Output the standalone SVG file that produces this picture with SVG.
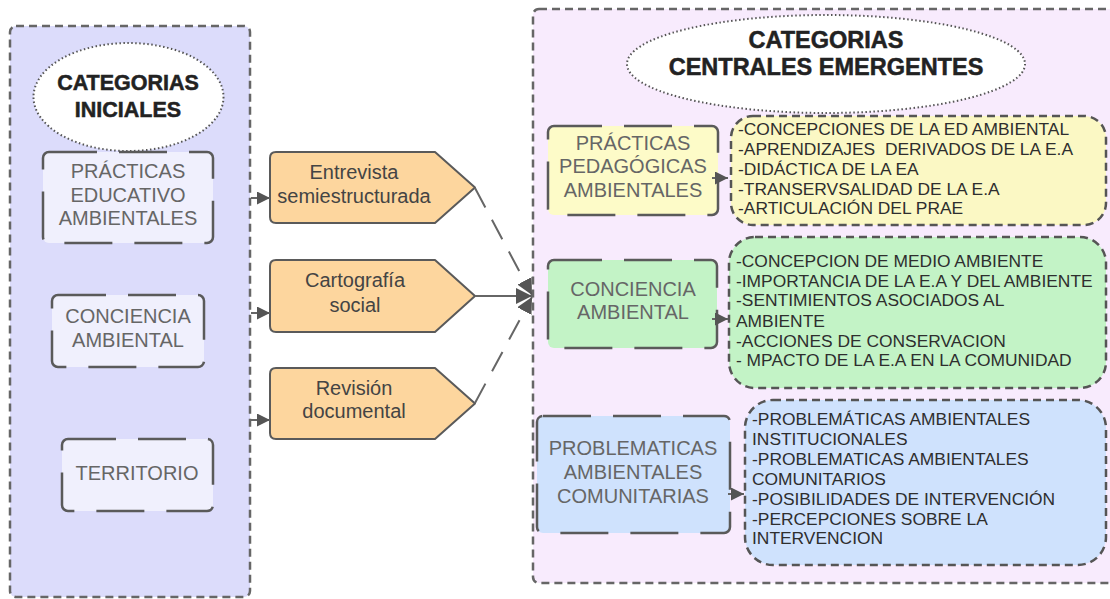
<svg xmlns="http://www.w3.org/2000/svg" width="1110" height="599" viewBox="0 0 1110 599">
<defs>
<marker id="ah" viewBox="0 0 10 10" refX="10" refY="5" markerWidth="16" markerHeight="16" markerUnits="userSpaceOnUse" orient="auto">
<path d="M0,0 L10,5 L0,10 Z" fill="#555"/>
</marker>
<marker id="ahs" viewBox="0 0 10 10" refX="10" refY="5" markerWidth="13" markerHeight="13" markerUnits="userSpaceOnUse" orient="auto">
<path d="M0,0 L10,5 L0,10 Z" fill="#555"/>
</marker>
</defs>
<style>
text{font-family:"Liberation Sans",Arial,sans-serif}
.cont{stroke:#666;stroke-width:2.5;stroke-dasharray:8 5}
.ell{fill:#fff;stroke:#555;stroke-width:2;stroke-dasharray:1.5 2.5}
.title{font-weight:bold;fill:#222;text-anchor:middle;stroke:#222;stroke-width:0.5}
.cat{stroke:#5a5a5a;stroke-width:2.5;stroke-dasharray:48 22}
.catt{font-size:20px;fill:#666;text-anchor:middle}
.pent{fill:#fdd69e;stroke:#5a5a5a;stroke-width:2;stroke-linejoin:round}
.pt{font-size:20px;fill:#444;text-anchor:middle}
.list{stroke:#555;stroke-width:2.5;stroke-dasharray:8 5}
.lt{font-size:17.4px;fill:#2e2e2e}
.conn{fill:none;stroke:#666;stroke-width:2}
.dash{stroke-dasharray:22 14}
</style>

<g id="left-container">
<rect x="10" y="26" width="240" height="571" rx="6" fill="#dcdcfb" class="cont"/>
</g>
<g id="right-container">
<rect x="533" y="9" width="585" height="574" rx="6" fill="#f8ebfd" class="cont"/>
</g>

<g id="title-iniciales">
<ellipse cx="128.5" cy="97" rx="95" ry="54" class="ell"/>
<text class="title" x="128" y="90" font-size="21.5">CATEGORIAS</text>
<text class="title" x="128" y="117" font-size="21.5">INICIALES</text>
</g>

<g id="practicas-educativo">
<rect x="43" y="152" width="170" height="91" rx="6" fill="#f0f0fd" class="cat"/>
<text class="catt" x="128" y="178">PRÁCTICAS</text>
<text class="catt" x="128" y="202">EDUCATIVO</text>
<text class="catt" x="128" y="225">AMBIENTALES</text>
</g>
<g id="conciencia-inicial">
<rect x="52" y="295" width="152" height="72" rx="6" fill="#f0f0fd" class="cat"/>
<text class="catt" x="128" y="323">CONCIENCIA</text>
<text class="catt" x="128" y="347">AMBIENTAL</text>
</g>
<g id="territorio">
<rect x="62" y="439" width="151" height="72" rx="6" fill="#f0f0fd" class="cat"/>
<text class="catt" x="137" y="480">TERRITORIO</text>
</g>

<g id="entrevista">
<path class="pent" d="M276 152 H435 L475 187.5 L435 223 H276 Q270 223 270 217 V158 Q270 152 276 152 Z"/>
<text class="pt" x="354" y="179">Entrevista</text>
<text class="pt" x="354" y="203">semiestructurada</text>
</g>
<g id="cartografia">
<path class="pent" d="M276 260 H435 L475 296 L435 332 H276 Q270 332 270 326 V266 Q270 260 276 260 Z"/>
<text class="pt" x="355" y="287">Cartografía</text>
<text class="pt" x="355" y="312">social</text>
</g>
<g id="revision">
<path class="pent" d="M276 368 H435 L475 403.5 L435 439 H276 Q270 439 270 433 V374 Q270 368 276 368 Z"/>
<text class="pt" x="354" y="395">Revisión</text>
<text class="pt" x="354" y="418">documental</text>
</g>

<g id="title-emergentes">
<ellipse cx="826" cy="64" rx="199" ry="49" class="ell"/>
<text class="title" x="826" y="48" font-size="23.5">CATEGORIAS</text>
<text class="title" x="826" y="75" font-size="23.5">CENTRALES EMERGENTES</text>
</g>

<g id="practicas-pedagogicas">
<rect x="548" y="126" width="170" height="89" rx="6" fill="#fdfbc8" class="cat"/>
<text class="catt" x="633" y="150">PRÁCTICAS</text>
<text class="catt" x="633" y="173">PEDAGÓGICAS</text>
<text class="catt" x="633" y="197">AMBIENTALES</text>
</g>
<g id="lista-practicas">
<rect x="731" y="116" width="375" height="109" rx="22" fill="#fbf8c4" class="list"/>
<text class="lt" x="738" y="135">-CONCEPCIONES DE LA ED AMBIENTAL</text>
<text class="lt" x="738" y="155" xml:space="preserve">-APRENDIZAJES  DERIVADOS DE LA E.A</text>
<text class="lt" x="738" y="175">-DIDÁCTICA DE LA EA</text>
<text class="lt" x="738" y="195">-TRANSERVSALIDAD DE LA E.A</text>
<text class="lt" x="738" y="214">-ARTICULACIÓN DEL PRAE</text>
</g>

<g id="conciencia-ambiental">
<rect x="548" y="260" width="169" height="88" rx="6" fill="#c3f3c6" class="cat"/>
<text class="catt" x="633" y="296">CONCIENCIA</text>
<text class="catt" x="633" y="319">AMBIENTAL</text>
</g>
<g id="lista-conciencia">
<rect x="729" y="237" width="377" height="151" rx="26" fill="#c3f3c6" class="list"/>
<text class="lt" x="736" y="267">-CONCEPCION DE MEDIO AMBIENTE</text>
<text class="lt" x="736" y="287">-IMPORTANCIA DE LA E.A Y DEL AMBIENTE</text>
<text class="lt" x="736" y="306">-SENTIMIENTOS ASOCIADOS AL</text>
<text class="lt" x="736" y="327">AMBIENTE</text>
<text class="lt" x="736" y="347">-ACCIONES DE CONSERVACION</text>
<text class="lt" x="736" y="366">- MPACTO DE LA E.A EN LA COMUNIDAD</text>
</g>

<g id="problematicas">
<rect x="537" y="416" width="193" height="117" rx="6" fill="#cfe2fd" class="cat"/>
<text class="catt" x="633" y="455">PROBLEMATICAS</text>
<text class="catt" x="633" y="479">AMBIENTALES</text>
<text class="catt" x="633" y="503">COMUNITARIAS</text>
</g>
<g id="lista-problematicas">
<rect x="745" y="400" width="361" height="165" rx="28" fill="#cfe2fd" class="list"/>
<text class="lt" x="752" y="425">-PROBLEMÁTICAS AMBIENTALES</text>
<text class="lt" x="752" y="445">INSTITUCIONALES</text>
<text class="lt" x="752" y="465">-PROBLEMATICAS AMBIENTALES</text>
<text class="lt" x="752" y="485">COMUNITARIOS</text>
<text class="lt" x="752" y="505">-POSIBILIDADES DE INTERVENCIÓN</text>
<text class="lt" x="752" y="525">-PERCEPCIONES SOBRE LA</text>
<text class="lt" x="752" y="544">INTERVENCION</text>
</g>

<g id="connectors">
<line class="conn" x1="251" y1="198" x2="270" y2="198" marker-end="url(#ahs)"/>
<line class="conn" x1="251" y1="313" x2="270" y2="313" marker-end="url(#ahs)"/>
<line class="conn" x1="251" y1="420" x2="270" y2="420" marker-end="url(#ahs)"/>
<line class="conn dash" x1="475" y1="188" x2="532" y2="295" marker-end="url(#ah)"/>
<line class="conn" x1="475" y1="296" x2="532" y2="296" marker-end="url(#ah)"/>
<line class="conn dash" x1="475" y1="403" x2="532" y2="297" marker-end="url(#ah)"/>
<line class="conn" x1="712" y1="178" x2="728" y2="178" marker-end="url(#ahs)"/>
<line class="conn" x1="712" y1="319" x2="728" y2="319" marker-end="url(#ahs)"/>
<line class="conn" x1="728" y1="494" x2="744" y2="494" marker-end="url(#ahs)"/>
</g>
</svg>
